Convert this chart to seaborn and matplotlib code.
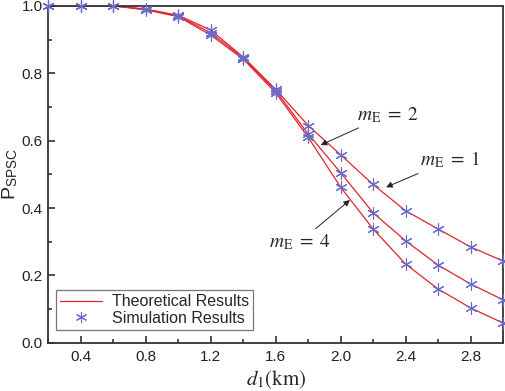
import matplotlib.pyplot as plt
import seaborn as sns
from matplotlib.lines import Line2D
from matplotlib.ticker import MultipleLocator

# data
d1 = [0.2, 0.4, 0.6, 0.8, 1.0, 1.2, 1.4, 1.6, 1.8, 2.0, 2.2, 2.4, 2.6, 2.8, 3.0]
p_m1 = [1.0, 1.0, 1.0, 0.99, 0.972, 0.928, 0.848, 0.752, 0.645, 0.558, 0.470, 0.392, 0.338, 0.285, 0.243]
p_m2 = [1.0, 1.0, 1.0, 0.99, 0.970, 0.920, 0.845, 0.748, 0.620, 0.505, 0.386, 0.303, 0.231, 0.175, 0.128]
p_m4 = [1.0, 1.0, 1.0, 0.988, 0.968, 0.913, 0.842, 0.742, 0.610, 0.462, 0.338, 0.234, 0.160, 0.104, 0.059]
series = {1: p_m1, 2: p_m2, 4: p_m4}

sns.set_theme(style="ticks")
plt.rcParams['font.family'] = ['Liberation Sans', 'DejaVu Sans']
plt.rcParams['mathtext.fontset'] = 'stix'

fig = plt.figure(figsize=(5.05, 3.91), dpi=100)
ax = fig.add_axes([0.096, 0.123, 0.9, 0.862])

line_col = "#e0242c"
mark_col = "#6a6ac8"
for m, vals in series.items():
    sns.lineplot(x=d1, y=vals, color=line_col, linewidth=0.9, ax=ax)
    sns.scatterplot(x=d1, y=vals, marker=(6, 2, 0), s=70, color=mark_col,
                    linewidth=0.8, edgecolor=mark_col, ax=ax, zorder=3, clip_on=False)

ax.set_xlim(0.2, 3.0)
ax.set_ylim(0.0, 1.0)
ax.xaxis.set_minor_locator(MultipleLocator(0.2))
ax.yaxis.set_major_locator(MultipleLocator(0.2))
ax.yaxis.set_minor_locator(MultipleLocator(0.1))
ax.set_xticks([0.4, 0.8, 1.2, 1.6, 2.0, 2.4, 2.8])
ax.tick_params(which='both', direction='in', top=False, right=False,
               labelsize=11, colors='#222222', width=1.1)
ax.tick_params(which='major', length=5, pad=5)
ax.tick_params(axis='y', which='major', pad=4)
ax.tick_params(which='minor', length=3)
for s in ax.spines.values():
    s.set_linewidth(1.3)
    s.set_color('#333333')

ax.set_xlabel(r"$d_{\mathrm{1}}\mathrm{(km)}$", fontsize=15, labelpad=3)
ax.set_ylabel(r"P$_{\mathregular{SPSC}}$", fontsize=14, labelpad=1)

# curve labels with arrows
ann = dict(arrowprops=dict(arrowstyle="-|>", color="#222222", lw=0.7,
                           mutation_scale=9, shrinkA=0, shrinkB=0),
           fontsize=14, va='center', ha='left')
ax.annotate(r"$m_{\mathrm{E}}\;=\;2$", xy=(1.877, 0.587), xytext=(2.10, 0.677), **ann)
ax.annotate(r"$m_{\mathrm{E}}\;=\;1$", xy=(2.28, 0.462), xytext=(2.49, 0.543), **ann)
ax.annotate(r"$m_{\mathrm{E}}\;=\;4$", xy=(2.057, 0.424), xytext=(1.56, 0.300), **ann)

handles = [Line2D([], [], color=line_col, linewidth=0.9),
           Line2D([], [], linestyle='none', marker=(6, 2, 0), markersize=8,
                  color=mark_col, markeredgewidth=0.8)]
leg = ax.legend(handles, ["Theoretical Results", "Simulation Results"],
                loc='lower left', bbox_to_anchor=(0.0, 0.015), fontsize=11.5,
                frameon=True, fancybox=False, handlelength=2.6,
                borderpad=0.25, labelspacing=0.1, handletextpad=0.6)
leg.get_frame().set_edgecolor('#555555')
leg.get_frame().set_linewidth(0.9)

fig.savefig("out.png", dpi=100)
